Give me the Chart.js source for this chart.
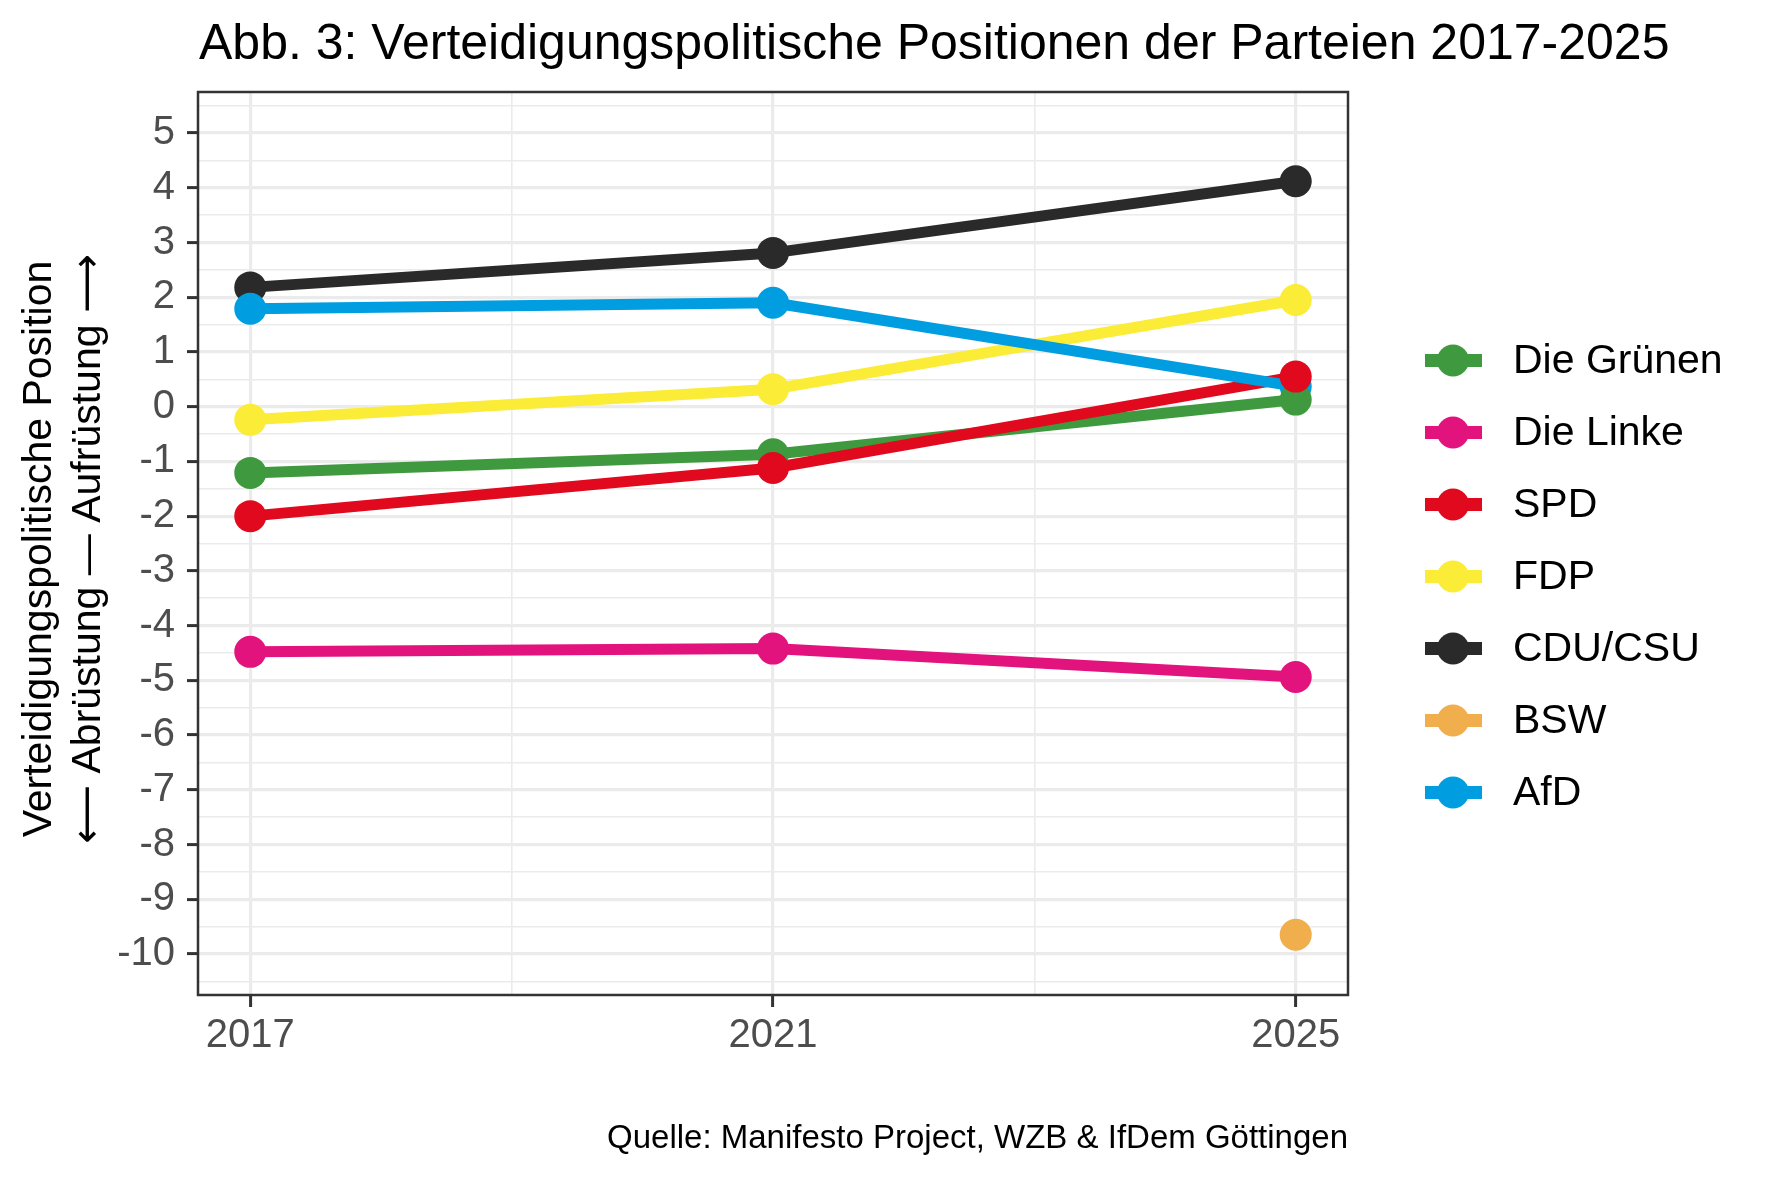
<!DOCTYPE html>
<html>
<head>
<meta charset="utf-8">
<script src="https://cdn.jsdelivr.net/npm/chart.js@4"></script>
<style>
html,body{margin:0;padding:0;background:#fff;}
canvas{display:block;}
</style>
</head>
<body>
<canvas id="c" width="1771" height="1181" style="width:1771px;height:1181px"></canvas>
<script>
// ---- data ----
const years = [2017, 2021, 2025];
const parties = ['Die Grünen', 'Die Linke', 'SPD', 'FDP', 'CDU/CSU', 'BSW', 'AfD'];
const gruene = [-1.21, -0.87, 0.13];
const linke  = [-4.48, -4.42, -4.94];
const spd    = [-2.00, -1.12, 0.55];
const fdp    = [-0.24, 0.32, 1.95];
const cdu    = [2.18, 2.81, 4.12];
const bsw    = [null, null, -9.65];
const afd    = [1.79, 1.90, 0.37];
const yTicks = [-10, -9, -8, -7, -6, -5, -4, -3, -2, -1, 0, 1, 2, 3, 4, 5];
const xTicks = [2017, 2021, 2025];
const titleText = 'Abb. 3: Verteidigungspolitische Positionen der Parteien 2017-2025';
const yTitleLine1 = 'Verteidigungspolitische Position';
const yTitleLine2 = ['\u27F5', ' Abrüstung \u2014 Aufrüstung ', '\u27F6'];
const captionText = 'Quelle: Manifesto Project, WZB & IfDem Göttingen';

// ---- styles ----
const seriesValues = [gruene, linke, spd, fdp, cdu, bsw, afd];
const colors = ['#3F9A3F', '#E3137E', '#E1091D', '#FBEC37', '#2A2A2A', '#F0AE4C', '#009DE0'];
const pointOrder = [1, 5, 0, 4, 3, 6, 2];   // lower = drawn on top
const lineOrder  = [12, 15, 11, 13, 14, 16, 10];
const FONT = '"Liberation Sans", Arial, Helvetica, sans-serif';
const ARROWFONT = '"DejaVu Sans", sans-serif';

const yMinor = yTicks.map(v => v + 0.5).concat([yTicks[0] - 0.5]).sort((a, b) => a - b);
const xMinor = xTicks.slice(1).map((v, i) => (v + xTicks[i]) / 2);

const datasets = [];
parties.forEach((p, i) => {
  const pts = years.map((yr, j) => ({x: yr, y: seriesValues[i][j]})).filter(d => d.y !== null);
  datasets.push({
    label: p, data: pts, borderColor: colors[i], backgroundColor: colors[i],
    borderWidth: 11, pointRadius: 0, pointHoverRadius: 0, showLine: true,
    borderJoinStyle: 'round', order: lineOrder[i]
  });
});
parties.forEach((p, i) => {
  const pts = years.map((yr, j) => ({x: yr, y: seriesValues[i][j]})).filter(d => d.y !== null);
  datasets.push({
    label: p, data: pts, borderColor: colors[i], backgroundColor: colors[i],
    pointBackgroundColor: colors[i], pointBorderWidth: 0, pointRadius: 16,
    pointHoverRadius: 16, showLine: false, order: pointOrder[i]
  });
});

const decor = {
  id: 'decor',
  afterDraw(chart) {
    const ctx = chart.ctx;
    const a = chart.chartArea;
    ctx.save();
    // panel border
    ctx.strokeStyle = '#333333';
    ctx.lineWidth = 2.5;
    ctx.strokeRect(a.left, a.top, a.right - a.left, a.bottom - a.top);
    // title
    ctx.fillStyle = '#000';
    ctx.font = '50px ' + FONT;
    ctx.textAlign = 'left';
    ctx.textBaseline = 'middle';
    ctx.fillText(titleText, a.left + 1, 45.5);
    // y axis title
    ctx.save();
    ctx.translate(40, 549);
    ctx.rotate(-Math.PI / 2);
    ctx.font = '41px ' + FONT;
    ctx.textAlign = 'center';
    ctx.textBaseline = 'middle';
    ctx.fillText(yTitleLine1, 0, 0);
    // second line with long arrows
    const fonts = ['41px ' + ARROWFONT, '41px ' + FONT, '41px ' + ARROWFONT];
    const widths = yTitleLine2.map((t, k) => { ctx.font = fonts[k]; return ctx.measureText(t).width; });
    let x = -widths.reduce((s, w) => s + w, 0) / 2;
    ctx.textAlign = 'left';
    yTitleLine2.forEach((t, k) => {
      ctx.font = fonts[k];
      ctx.fillText(t, x, 49);
      x += widths[k];
    });
    ctx.restore();
    // caption
    ctx.font = '33px ' + FONT;
    ctx.textAlign = 'right';
    ctx.textBaseline = 'middle';
    ctx.fillText(captionText, a.right, 1139);
    // legend
    const lx0 = 1425, lx1 = 1482, lcx = 1453, ly0 = 360.5, lstep = 72;
    parties.forEach((p, i) => {
      const y = ly0 + i * lstep;
      ctx.strokeStyle = colors[i];
      ctx.lineWidth = 13;
      ctx.lineCap = 'butt';
      ctx.beginPath(); ctx.moveTo(lx0, y); ctx.lineTo(lx1, y); ctx.stroke();
      ctx.fillStyle = colors[i];
      ctx.beginPath(); ctx.arc(lcx, y, 16, 0, Math.PI * 2); ctx.fill();
      ctx.fillStyle = '#000';
      ctx.font = '41px ' + FONT;
      ctx.textAlign = 'left';
      ctx.textBaseline = 'middle';
      ctx.fillText(p, 1513, y + 1);
    });
    ctx.restore();
  }
};

new Chart(document.getElementById('c'), {
  type: 'line',
  data: {datasets},
  options: {
    responsive: false,
    devicePixelRatio: 1,
    animation: false,
    layout: {padding: {top: 92, right: 423, bottom: 0, left: 0}},
    plugins: {legend: {display: false}, title: {display: false}, tooltip: {enabled: false}},
    scales: {
      x: {
        type: 'linear', position: 'bottom', min: 2016.6, max: 2025.4,
        afterFit: s => { s.height = 186; },
        afterBuildTicks: s => { s.ticks = xTicks.concat(xMinor).sort((a, b) => a - b).map(v => ({value: v})); },
        ticks: {
          autoSkip: false, maxRotation: 0, padding: 5, color: '#4D4D4D',
          font: {family: FONT, size: 40},
          callback: v => xTicks.includes(v) ? String(v) : ''
        },
        grid: {
          color: '#EBEBEB',
          lineWidth: c => xTicks.includes(c.tick && c.tick.value) ? 3.2 : 1.6,
          tickColor: c => xTicks.includes(c.tick && c.tick.value) ? '#333333' : 'rgba(0,0,0,0)',
          tickLength: 12, tickWidth: 3, drawTicks: true
        },
        border: {display: false}
      },
      y: {
        type: 'linear', min: -10.75, max: 5.75,
        afterFit: s => { s.width = 198; },
        afterBuildTicks: s => { s.ticks = yTicks.concat(yMinor).sort((a, b) => a - b).map(v => ({value: v})); },
        ticks: {
          autoSkip: false, padding: 12, color: '#4D4D4D',
          font: {family: FONT, size: 40},
          callback: v => yTicks.includes(v) ? String(v) : ''
        },
        grid: {
          color: '#EBEBEB',
          lineWidth: c => yTicks.includes(c.tick && c.tick.value) ? 3.2 : 1.6,
          tickColor: c => yTicks.includes(c.tick && c.tick.value) ? '#333333' : 'rgba(0,0,0,0)',
          tickLength: 11, tickWidth: 3, drawTicks: true
        },
        border: {display: false}
      }
    }
  },
  plugins: [decor]
});
</script>
</body>
</html>
